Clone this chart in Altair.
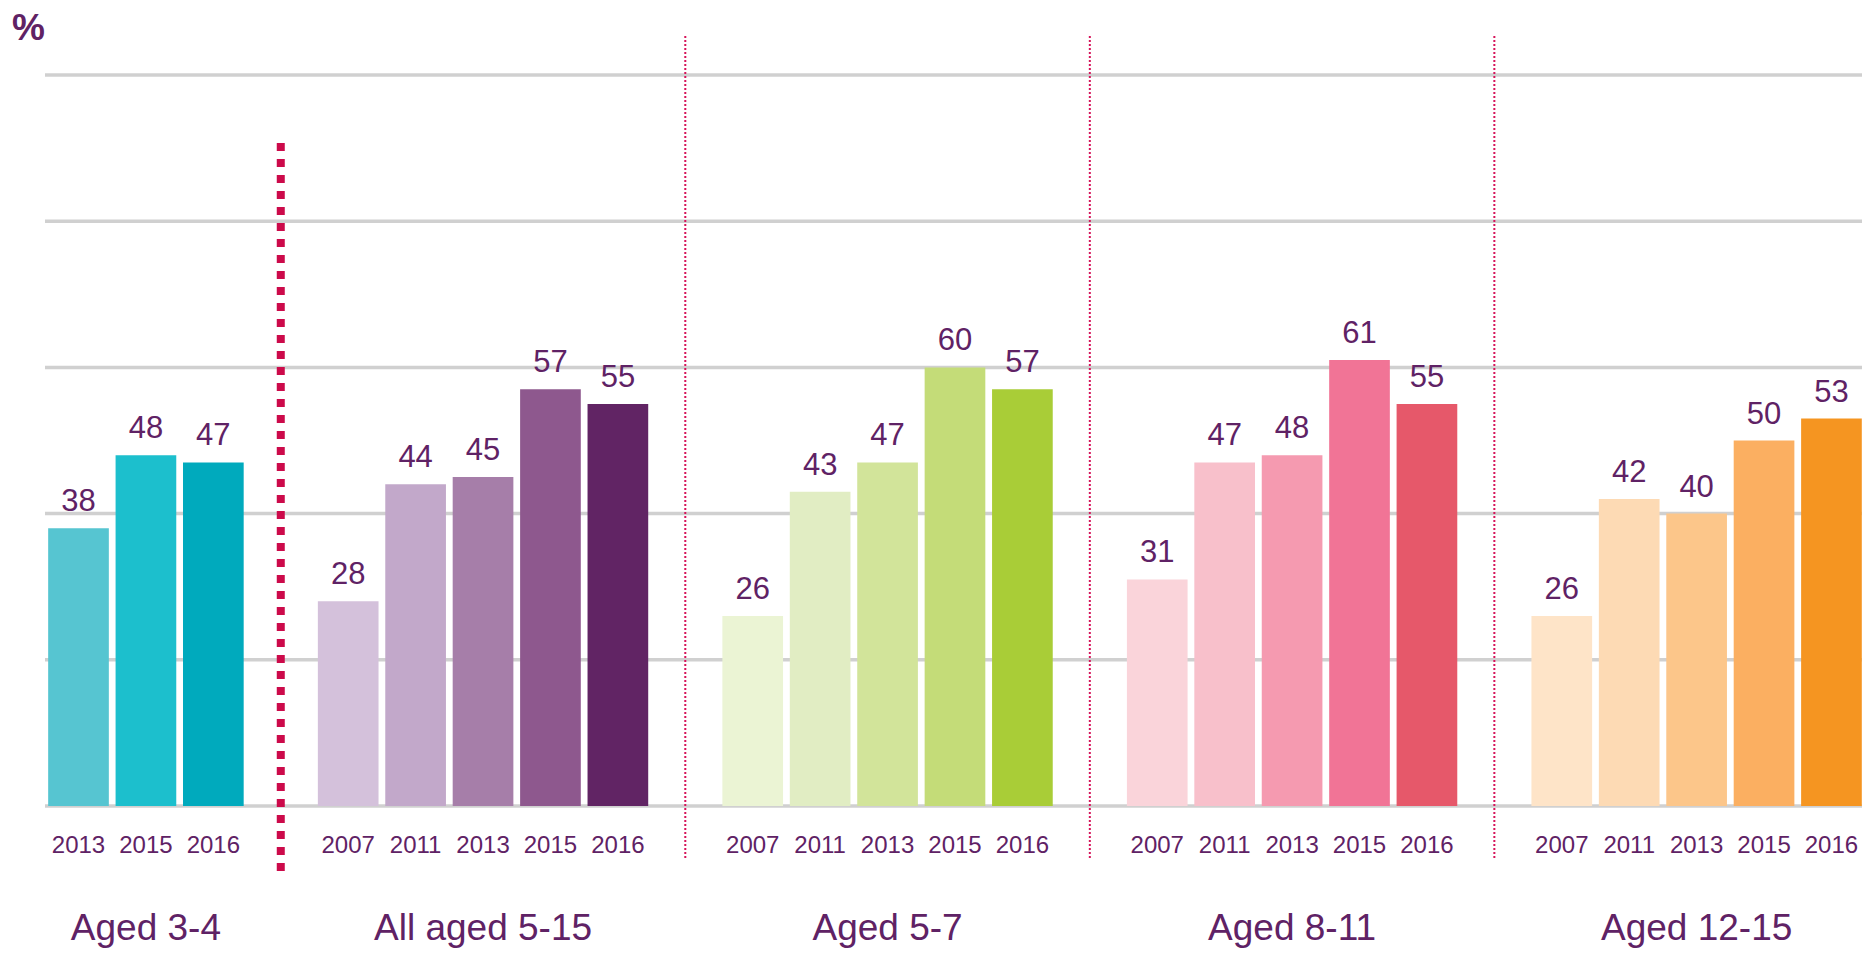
import altair as alt
import pandas as pd

# ---- data ----
groups = ["Aged 3-4", "All aged 5-15", "Aged 5-7", "Aged 8-11", "Aged 12-15"]
years = [
    ["2013", "2015", "2016"],
    ["2007", "2011", "2013", "2015", "2016"],
    ["2007", "2011", "2013", "2015", "2016"],
    ["2007", "2011", "2013", "2015", "2016"],
    ["2007", "2011", "2013", "2015", "2016"],
]
values = [
    [38, 48, 47],
    [28, 44, 45, 57, 55],
    [26, 43, 47, 60, 57],
    [31, 47, 48, 61, 55],
    [26, 42, 40, 50, 53],
]
colors = [
    ["#56c5d1", "#1cbfcd", "#00aabd"],
    ["#d4c1db", "#c2a8ca", "#a67ea9", "#8e588e", "#612464"],
    ["#ebf4d4", "#e1edc3", "#d2e49a", "#c4dc78", "#a9cd37"],
    ["#fad4da", "#f8c0cb", "#f59ab0", "#f17496", "#e6586a"],
    ["#fee4c8", "#fddab4", "#fcc68a", "#fbaf61", "#f59521"],
]
grid_values = [0, 20, 40, 60, 80, 100]

# ---- build tables ----
rows = []
group_rows = []
slot = 0
boundaries = []
for gi, g in enumerate(groups):
    start = slot
    for y, v, c in zip(years[gi], values[gi], colors[gi]):
        rows.append({"group": g, "year": y, "value": v, "color": c,
                     "slot": slot, "x0": slot - 0.45, "x1": slot + 0.45, "base": 0})
        slot += 1
    group_rows.append({"group": g, "center": (start + slot - 1) / 2})
    if gi < len(groups) - 1:
        boundaries.append(slot)
        slot += 1

df = pd.DataFrame(rows)
gdf = pd.DataFrame(group_rows)
grid_df = pd.DataFrame({"g": grid_values})
thick_df = pd.DataFrame({"b": boundaries[:1]})
thin_df = pd.DataFrame({"b": boundaries[1:]})

W, H = 1854, 942
purple = "#5f2265"
font = "Liberation Sans"

xs = alt.Scale(domain=[-1.0457, 26.453], nice=False, zero=False)
ys = alt.Scale(domain=[-19.70, 109.17], nice=False, zero=False)

grid = alt.Chart(grid_df).mark_rule(color="#d0d0d0", strokeWidth=3.5).encode(
    y=alt.Y("g:Q", scale=ys, axis=None),
    x=alt.value(37),
    x2=alt.value(W),
)

bars = alt.Chart(df).mark_bar(clip=True).encode(
    x=alt.X("x0:Q", scale=xs, axis=None),
    x2="x1:Q",
    y=alt.Y("value:Q", scale=ys, axis=None),
    y2="base:Q",
    color=alt.Color("color:N", scale=None, legend=None),
)

vlabels = alt.Chart(df).mark_text(
    baseline="alphabetic", dy=-17, fontSize=31, font=font, color=purple
).encode(
    x=alt.X("slot:Q", scale=xs, axis=None),
    y=alt.Y("value:Q", scale=ys, axis=None),
    text="value:Q",
)

ylabels = alt.Chart(df).mark_text(
    baseline="alphabetic", fontSize=24, font=font, color=purple
).encode(
    x=alt.X("slot:Q", scale=xs, axis=None),
    y=alt.value(845),
    text="year:N",
)

glabels = alt.Chart(gdf).mark_text(
    baseline="alphabetic", fontSize=37, font=font, color=purple
).encode(
    x=alt.X("center:Q", scale=xs, axis=None),
    y=alt.value(932),
    text="group:N",
)

thick = alt.Chart(thick_df).mark_rule(
    color="#cc0a4a", strokeWidth=8, strokeDash=[8, 8], strokeCap="butt"
).encode(
    x=alt.X("b:Q", scale=xs, axis=None),
    y=alt.value(135),
    y2=alt.value(863),
)

thin = alt.Chart(thin_df).mark_rule(
    color="#d6145a", strokeWidth=2, strokeDash=[2, 2], strokeCap="butt"
).encode(
    x=alt.X("b:Q", scale=xs, axis=None),
    y=alt.value(28),
    y2=alt.value(852),
)

pct = alt.Chart(gdf.head(1)).mark_text(
    text="%", align="left", baseline="alphabetic", fontSize=37,
    fontWeight="bold", font=font, color=purple
).encode(x=alt.value(4), y=alt.value(32))

chart = alt.layer(grid, bars, vlabels, ylabels, glabels, thick, thin, pct).properties(
    width=W, height=H, padding=0, autosize=alt.AutoSizeParams(type="none")
).configure_view(stroke=None)

chart.save("out.html", embed_options={"renderer": "svg", "actions": False})
